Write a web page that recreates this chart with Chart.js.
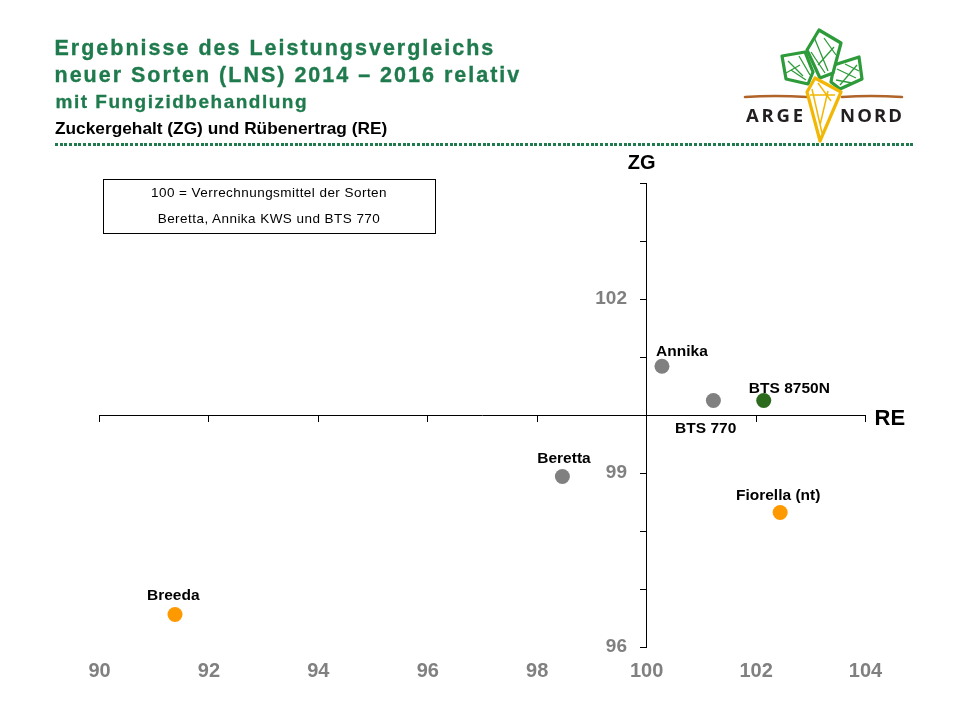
<!DOCTYPE html>
<html>
<head>
<meta charset="utf-8">
<script src="https://cdn.jsdelivr.net/npm/chart.js@4"></script>
<style>
  html, body { margin:0; padding:0; background:#fff; }
  body { width:960px; height:720px; position:relative; overflow:hidden; font-family:"Liberation Sans", Arial, sans-serif; }
  .abs { position:absolute; white-space:nowrap; }
  .t1 { color:#1F7B4D; font-weight:bold; font-size:21.5px; line-height:21.5px; letter-spacing:2px; -webkit-text-stroke:0.35px #1F7B4D; }
  .t3 { color:#1F7B4D; font-weight:bold; font-size:19px; line-height:19px; letter-spacing:1.5px; -webkit-text-stroke:0.3px #1F7B4D; }
  .t4 { color:#000; font-weight:bold; font-size:17.3px; line-height:17.3px; }
  #dots { position:absolute; left:55px; top:142.5px; width:860px; height:3px;
    background: repeating-linear-gradient(90deg, #1F7B4D 0 3px, transparent 3px 4.7px); }
  #infobox { position:absolute; left:102.5px; top:179px; width:331px; height:53px; border:1px solid #000; }
  .info { position:absolute; left:102.5px; width:333px; text-align:center; font-size:13.5px; line-height:14px; letter-spacing:0.45px; color:#000; }
  .axt { position:absolute; font-weight:bold; color:#000; }
  #chartwrap { position:absolute; left:0; top:0; width:960px; height:720px; }
</style>
</head>
<body>
<div id="chartwrap"><canvas id="c" width="960" height="720"></canvas></div>

<div class="abs t1" style="left:54.5px; top:37.8px;">Ergebnisse des Leistungsvergleichs</div>
<div class="abs t1" style="left:54.5px; top:65.1px;">neuer Sorten (LNS) 2014 – 2016 relativ</div>
<div class="abs t3" style="left:55.5px; top:92.2px;">mit Fungizidbehandlung</div>
<div class="abs t4" style="left:55px; top:120.4px;">Zuckergehalt (ZG) und Rübenertrag (RE)</div>
<div id="dots"></div>

<svg class="abs" style="left:740px; top:25px;" width="170" height="118" viewBox="0 0 170 118">
  <g fill="#fff" stroke="#2E9B3A" stroke-width="3.2" stroke-linejoin="round">
    <polygon points="42,31 65,27 73,47 68,59 46,54"/>
    <polygon points="94,40 119,32 122,54 100,64 91,57"/>
    <polygon points="79,5 101,18 93,48 80,53 67,25"/>
  </g>
  <g fill="none" stroke="#2E9B3A" stroke-width="1.3">
    <path d="M48,36 L63,51 M51,45 L66,55 M59,31 L70,50 M46,48 L60,40"/>
    <path d="M74,12 L88,46 M84,13 L96,30 M71,27 L85,48 M78,40 L94,22"/>
    <path d="M97,44 L116,53 M105,39 L119,46 M96,55 L112,58 M100,60 L117,40"/>
  </g>
  <path d="M5,72 Q35,70 67,72 M102,72 Q130,70 162,72" stroke="#B0642A" stroke-width="2.6" fill="none" stroke-linecap="round"/>
  <polygon points="75,53 101,67 80,116 67,67" fill="#fff" stroke="#F2B705" stroke-width="3.2" stroke-linejoin="round"/>
  <path d="M72,64 L82,108 M78,58 L91,76 M88,66 L80,100 M70,70 L95,70" stroke="#F2B705" stroke-width="1.5" fill="none"/>
  <text x="6" y="97" font-family="'Open Sans', 'Liberation Sans', sans-serif" font-weight="bold" font-size="18.5" fill="#231F20" textLength="57" lengthAdjust="spacing">ARGE</text>
  <text x="100" y="97" font-family="'Open Sans', 'Liberation Sans', sans-serif" font-weight="bold" font-size="18.5" fill="#231F20" textLength="62" lengthAdjust="spacing">NORD</text>
</svg>

<div id="infobox"></div>
<div class="info" style="top:186px;">100 = Verrechnungsmittel der Sorten</div>
<div class="info" style="top:211.7px;">Beretta, Annika KWS und BTS 770</div>

<div class="axt" style="left:611.7px; top:151.7px; width:60px; text-align:center; font-size:20px; line-height:20px;">ZG</div>
<div class="axt" style="left:874.5px; top:407.3px; font-size:22px; line-height:22px;">RE</div>

<script>
// ---- Data ----
const varieties = ['Breeda', 'Beretta', 'Annika', 'BTS 770', 'BTS 8750N', 'Fiorella (nt)'];
const reValues  = [91.38, 98.46, 100.28, 101.22, 102.14, 102.44];   // Rübenertrag (RE), relativ
const zgValues  = [96.56, 98.94, 100.84, 100.25, 100.25, 98.32];    // Zuckergehalt (ZG), relativ
const xTickValues = [90, 92, 94, 96, 98, 100, 102, 104];
const yTickValues = [96, 97, 98, 99, 100, 101, 102, 103, 104];
const yTickLabels = [96, 99, 102];

// ---- Styles ----
const pointColors = ['#FF9900', '#808080', '#808080', '#808080', '#2C6B1E', '#FF9900'];
const labelOffsets = [[-1.7, -19.3], [1.6, -17.7], [20, -14.4], [-7.7, 28.6], [25.6, -11.7], [-2, -17]];
const FONT = '"Liberation Sans", Arial, sans-serif';

const pointLabelPlugin = {
  id: 'pointLabelPlugin',
  afterDatasetsDraw(chart) {
    const ctx = chart.ctx;
    const meta = chart.getDatasetMeta(0);
    ctx.save();
    ctx.font = 'bold 15.5px ' + FONT;
    ctx.fillStyle = '#000';
    ctx.textAlign = 'center';
    ctx.textBaseline = 'middle';
    meta.data.forEach((pt, i) => {
      const off = labelOffsets[i];
      ctx.fillText(varieties[i], pt.x + off[0], pt.y + off[1]);
    });
    ctx.restore();
  }
};

function zeroPad(s) { s.paddingLeft = 0; s.paddingRight = 0; s.paddingTop = 0; s.paddingBottom = 0; }

new Chart(document.getElementById('c'), {
  type: 'scatter',
  data: {
    datasets: [{
      data: reValues.map((x, i) => ({ x: x, y: zgValues[i] })),
      xAxisID: 'x',
      yAxisID: 'y',
      pointRadius: 7.5,
      pointHoverRadius: 7.5,
      pointBorderWidth: 0,
      pointBackgroundColor: pointColors,
      pointBorderColor: pointColors
    }]
  },
  options: {
    responsive: false,
    animation: false,
    events: [],
    layout: { padding: { left: 99.5, right: 94.5, top: 183, bottom: 33 }, autoPadding: false },
    plugins: { legend: { display: false }, tooltip: { enabled: false }, title: { display: false } },
    scales: {
      x: {
        type: 'linear', min: 90, max: 104,
        position: { y: 100 },
        afterBuildTicks: s => { s.ticks = xTickValues.map(v => ({ value: v })); },
        afterFit: zeroPad,
        ticks: { display: false },
        grid: { drawOnChartArea: false, drawTicks: true, tickLength: 6, color: '#000', lineWidth: 1 },
        border: { display: true, color: '#000', width: 1 }
      },
      y: {
        type: 'linear', min: 96, max: 104,
        position: { x: 100 },
        afterBuildTicks: s => { s.ticks = yTickValues.map(v => ({ value: v })); },
        afterFit: zeroPad,
        ticks: {
          autoSkip: false,
          color: '#808080',
          font: { family: FONT, size: 19, weight: 'bold' },
          callback: v => yTickLabels.includes(v) ? String(v) + '\u2009   ' : ''
        },
        grid: { drawOnChartArea: false, drawTicks: true, tickLength: 6, color: '#000', lineWidth: 1 },
        border: { display: true, color: '#000', width: 1 }
      },
      x2: {
        type: 'linear', min: 90, max: 104,
        position: 'bottom',
        afterBuildTicks: s => { s.ticks = xTickValues.map(v => ({ value: v })); },
        afterFit: s => { zeroPad(s); s.height = 40; },
        ticks: {
          autoSkip: false, maxRotation: 0, padding: 12,
          color: '#808080',
          font: { family: FONT, size: 20, weight: 'bold' }
        },
        grid: { display: false, drawTicks: false },
        border: { display: false }
      }
    }
  },
  plugins: [pointLabelPlugin]
});
</script>
</body>
</html>
